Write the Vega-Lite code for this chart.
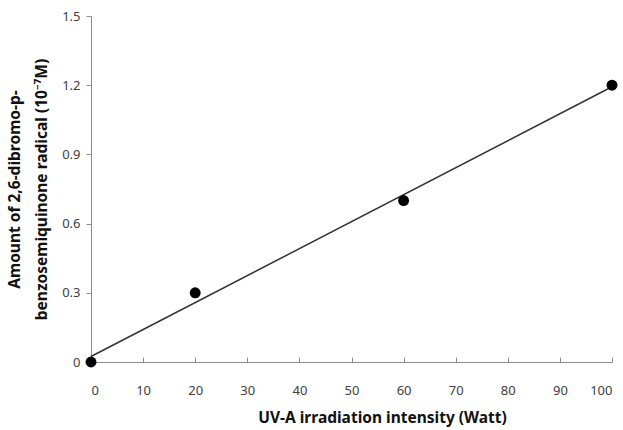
{
  "$schema": "https://vega.github.io/schema/vega-lite/v6.json",
  "width": 521,
  "height": 346,
  "autosize": "none",
  "padding": {"left": 91, "top": 16, "right": 11, "bottom": 68},
  "background": "white",
  "config": {
    "view": {"stroke": null},
    "axis": {
      "grid": false,
      "domainColor": "#8c8c8c",
      "tickColor": "#8c8c8c",
      "labelColor": "#404040",
      "labelFont": "Noto Sans",
      "labelFontSize": 13,
      "titleFont": "Noto Sans",
      "titleFontSize": 15.5,
      "titleFontWeight": "bold",
      "titleColor": "#111111"
    }
  },
  "data": {
    "values": [
      {"watt": 0, "amount": 0},
      {"watt": 20, "amount": 0.3},
      {"watt": 60, "amount": 0.7},
      {"watt": 100, "amount": 1.2}
    ]
  },
  "layer": [
    {
      "transform": [{"regression": "amount", "on": "watt", "extent": [0, 100]}],
      "mark": {"type": "line", "color": "#333333", "strokeWidth": 1.5},
      "encoding": {
        "x": {"field": "watt", "type": "quantitative"},
        "y": {"field": "amount", "type": "quantitative"}
      }
    },
    {
      "mark": {"type": "point", "filled": true, "color": "#000000", "opacity": 1, "size": 120},
      "encoding": {
        "x": {
          "field": "watt",
          "type": "quantitative",
          "scale": {"domain": [0, 100], "nice": false},
          "axis": {
            "title": "UV-A irradiation intensity (Watt)",
            "values": [0, 10, 20, 30, 40, 50, 60, 70, 80, 90, 100],
            "tickSize": -5,
            "labelPadding": 27,
            "titleX": 291,
            "titleY": 60,
            "titleBaseline": "alphabetic"
          }
        },
        "y": {
          "field": "amount",
          "type": "quantitative",
          "scale": {"domain": [0, 1.5], "nice": false},
          "axis": {
            "title": ["Amount of 2,6-dibromo-p-", "benzosemiquinone radical (10⁻⁷M)"],
            "values": [0, 0.3, 0.6, 0.9, 1.2, 1.5],
            "format": ".1~f",
            "tickSize": 5,
            "labelPadding": 6,
            "titlePadding": 12,
            "titleLineHeight": 27
          }
        }
      }
    }
  ]
}
